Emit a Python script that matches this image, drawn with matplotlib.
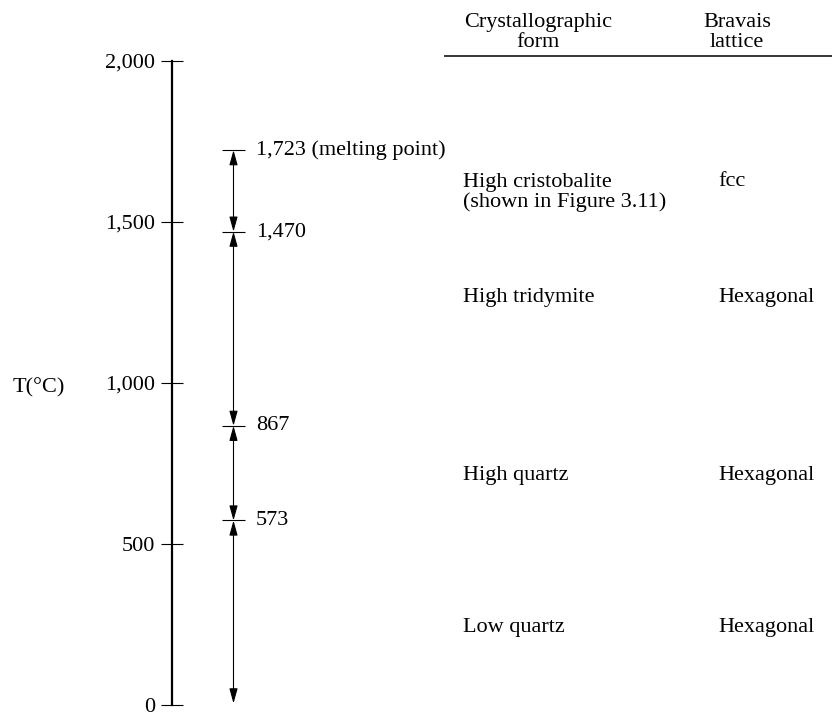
import matplotlib
matplotlib.use('Agg')
import matplotlib.pyplot as plt
import matplotlib.ticker as ticker

plt.rcParams['font.family'] = ['Liberation Serif', 'DejaVu Serif']

# scale ticks and phase-transition temperatures (°C)
scale_ticks = [0, 500, 1000, 1500, 2000]
transitions = [1723, 1470, 867, 573]
transition_labels = ['1,723 (melting point)', '1,470', '867', '573']
range_bottom = 5  # lower end of the lowest arrow

# table on the right
headers = ['Crystallographic\nform', 'Bravais\nlattice']
forms = ['High cristobalite\n(shown in Figure 3.11)', 'High tridymite', 'High quartz', 'Low quartz']
lattices = ['fcc', 'Hexagonal', 'Hexagonal', 'Hexagonal']
row_y = [1592, 1267, 714, 242]

fig = plt.figure(figsize=(8.32, 7.12), dpi=100)
ax = fig.add_axes([0, 0, 1, 1])
ax.set_xlim(0, 832)
ax.set_ylim(-21.7, 2189.4)

# temperature axis
for s in ['top', 'right', 'bottom']:
    ax.spines[s].set_visible(False)
ax.spines['left'].set_position(('data', 172))
ax.spines['left'].set_bounds(0, 2000)
ax.spines['left'].set_linewidth(1.6)
ax.xaxis.set_visible(False)
ax.set_yticks(scale_ticks)
ax.yaxis.set_major_formatter(ticker.FuncFormatter(lambda v, p: '{:,.0f}'.format(v)))
ax.tick_params(axis='y', direction='inout', length=16.5, width=0.8, pad=4, labelsize=16)
ax.text(13, 985, 'T(°C)', fontsize=16, ha='left', va='center')

# transition marks and labels
ax.hlines(transitions, 222, 245, color='black', lw=0.8)
for t, lab in zip(transitions, transition_labels):
    ax.text(256, t, lab, fontsize=16, ha='left', va='center')

# double arrows between transitions
ends = transitions + [range_bottom]
for top, bot in zip(ends[:-1], ends[1:]):
    ax.annotate('', xy=(233.5, bot), xytext=(233.5, top),
                arrowprops=dict(arrowstyle='<|-|>,head_length=0.9,head_width=0.25',
                                mutation_scale=10, color='black', lw=0.8,
                                shrinkA=0, shrinkB=0))

# table
ax.text(538, 2088, headers[0], fontsize=16, ha='center', va='center', linespacing=1.05)
ax.text(737, 2088, headers[1], fontsize=16, ha='center', va='center', linespacing=1.05)
ax.hlines(2016, 444, 832, color='black', lw=1.1)
for y, f, l in zip(row_y, forms, lattices):
    ax.text(463, y, f, fontsize=16, ha='left', va='center', linespacing=1.05)
    first_line_y = y + 33 if '\n' in f else y
    ax.text(718, first_line_y, l, fontsize=16, ha='left', va='center')

fig.savefig('out.png', dpi=100)
